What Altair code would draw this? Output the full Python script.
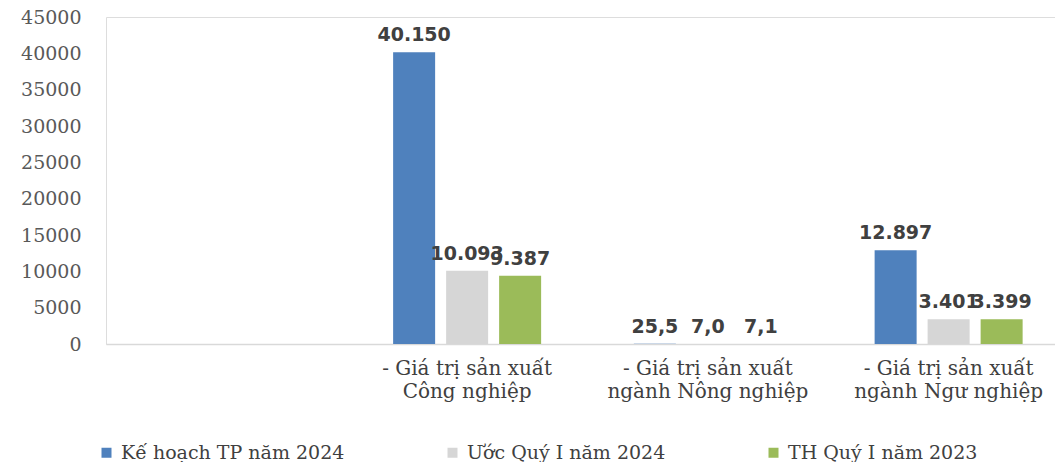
import altair as alt
import pandas as pd

categories = [
    " ",
    "- Giá trị sản xuất\nCông nghiệp",
    "- Giá trị sản xuất\nngành Nông nghiệp",
    "- Giá trị sản xuất\nngành Ngư nghiệp",
]
series = ["Kế hoạch TP năm 2024", "Ước Quý I năm 2024", "TH Quý I năm 2023"]
colors = ["#4f81bd", "#d6d6d6", "#9bbb59"]

ke_hoach = [40150, 25.5, 12897]
uoc_quy1 = [10093, 7.0, 3401]
th_quy1 = [9387, 7.1, 3399]

labels_ke_hoach = ["40.150", "25,5", "12.897"]
labels_uoc = ["10.093", "7,0", "3.401"]
labels_th = ["9.387", "7,1", "3.399"]

y_ticks = [0, 5000, 10000, 15000, 20000, 25000, 30000, 35000, 40000, 45000]

rows = []
for s, vals, labs in zip(series, [ke_hoach, uoc_quy1, th_quy1], [labels_ke_hoach, labels_uoc, labels_th]):
    for c, v, l in zip(categories[1:], vals, labs):
        rows.append({"cat": c, "series": s, "value": v, "label": l})
df = pd.DataFrame(rows)

x_scale = alt.Scale(domain=categories, range=[0, 963], paddingInner=0, paddingOuter=0)
xoff_scale = alt.Scale(domain=series, paddingInner=0.2075, paddingOuter=0.875)
y_scale = alt.Scale(domain=[0, 45000], nice=False)

x_enc = alt.X(
    "cat:N",
    sort=categories,
    scale=x_scale,
    axis=alt.Axis(
        title=None,
        labelExpr="split(datum.label, '\\n')",
        labelAngle=0,
        labelFont="DejaVu Serif",
        labelFontSize=20,
        labelColor="#404040",
        labelLineHeight=23,
        labelPadding=14,
        labelBaseline="top",
        labelLimit=0,
        labelOverlap=False,
        ticks=False,
        domainColor="#d9d9d9",
        domainWidth=1.5,
        grid=False,
    ),
)
y_enc = alt.Y(
    "value:Q",
    scale=y_scale,
    axis=alt.Axis(
        title=None,
        values=y_ticks,
        format="d",
        labelFont="DejaVu Serif",
        labelFontSize=19,
        labelColor="#595959",
        labelPadding=25,
        labelOverlap=False,
        labelFlush=False,
        ticks=False,
        domain=False,
        grid=False,
    ),
)
xoff_enc = alt.XOffset("series:N", sort=series, scale=xoff_scale)

bars = alt.Chart(df).mark_bar().encode(
    x=x_enc,
    xOffset=xoff_enc,
    y=y_enc,
    color=alt.Color(
        "series:N",
        sort=series,
        scale=alt.Scale(domain=series, range=colors),
        legend=alt.Legend(
            title=None,
            orient="none",
            legendX=-9,
            legendY=426,
            direction="horizontal",
            symbolType="square",
            symbolSize=100,
            symbolStrokeWidth=0,
            labelFont="DejaVu Serif",
            labelFontSize=19,
            labelColor="#404040",
            labelOffset=5,
            labelLimit=0,
            columnPadding=98,
        ),
    ),
)

text = alt.Chart(df).mark_text(
    font="DejaVu Sans",
    fontWeight="bold",
    fontSize=19,
    color="#404040",
    baseline="alphabetic",
    dy=-11,
).encode(
    x=x_enc,
    xOffset=xoff_enc,
    y=y_enc,
    text="label:N",
)

chart = (
    alt.layer(bars, text)
    .properties(
        width=949,
        height=327,
        autosize=alt.AutoSizeParams(type="none"),
        padding={"left": 98, "top": 9, "right": 0, "bottom": 118},
    )
    .configure_view(stroke=None)
    .configure(background="white")
)

chart.save("out.html", embed_options={"renderer": "svg", "actions": False})
